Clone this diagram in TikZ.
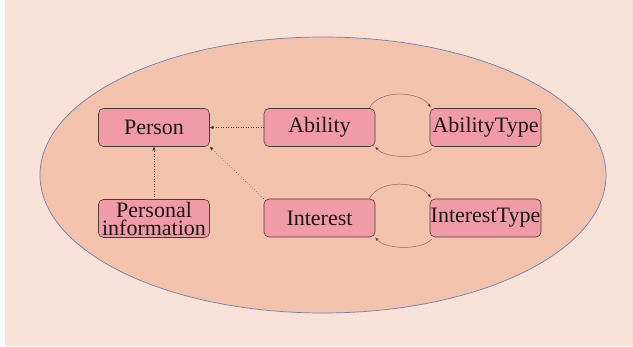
\documentclass[tikz,border=0pt]{standalone}
\usepackage{fontspec}
\setmainfont{Liberation Serif}
\usetikzlibrary{arrows.meta}
\definecolor{bgpeach}{HTML}{F8E1D7}
\definecolor{ellfill}{HTML}{F2C2AC}
\definecolor{ellline}{HTML}{6F80AE}
\definecolor{boxfill}{HTML}{F09BA6}
\definecolor{boxline}{HTML}{4A3A3A}
\definecolor{curvecol}{HTML}{8A6A60}
\begin{document}
\begin{tikzpicture}[x=1pt,y=-1pt,
  entity/.style={draw=boxline, fill=boxfill, rounded corners=5pt, line width=0.6pt,
    minimum width=111pt, minimum height=38pt, inner sep=0pt,
    font=\fontsize{22}{18}\selectfont, align=center, text=black!90},
  dotarrow/.style={dotted, line width=0.5pt, draw=black!75, -{Triangle[length=3.5pt,width=3pt]}},
  loop/.style={line width=0.5pt, draw=curvecol, -{Triangle[length=3.5pt,width=3pt,fill=black]}}]
\useasboundingbox (0,0) rectangle (633,347);
\fill[white] (0,0) rectangle (633,347);
\fill[bgpeach] (5,0) rectangle (633,346);
\draw[fill=ellfill, draw=ellline, line width=0.7pt] (323,175) ellipse [x radius=283pt, y radius=138pt];
\node[entity] (person) at (154,127.5) {Person};
\node[entity] (pinfo) at (154,218.5) {Personal\\information};
\node[entity] (ability) at (319.5,127.5) {Ability};
\node[entity] (abtype) at (485.5,127.5) {AbilityType};
\node[entity] (interest) at (319.5,218) {Interest};
\node[entity] (inttype) at (485.5,218) {InterestType};
\draw[dotarrow] (ability.west) -- (person.east);
\draw[dotarrow] (pinfo.north) -- (person.south);
\draw[dotarrow] (interest.north west) -- (person.south east);
\draw[loop] ([xshift=-6pt]ability.north east) .. controls (380,88) and (420,92) .. ([xshift=1pt,yshift=1pt]abtype.north west);
\draw[loop] ([xshift=2pt,yshift=-2pt]abtype.south west) .. controls (420,160) and (385,158) .. (ability.south east);
\draw[loop] ([xshift=-6pt]interest.north east) .. controls (380,178) and (420,182) .. ([xshift=1pt,yshift=1pt]inttype.north west);
\draw[loop] ([xshift=2pt,yshift=-2pt]inttype.south west) .. controls (420,251) and (385,249) .. (interest.south east);
\end{tikzpicture}
\end{document}
